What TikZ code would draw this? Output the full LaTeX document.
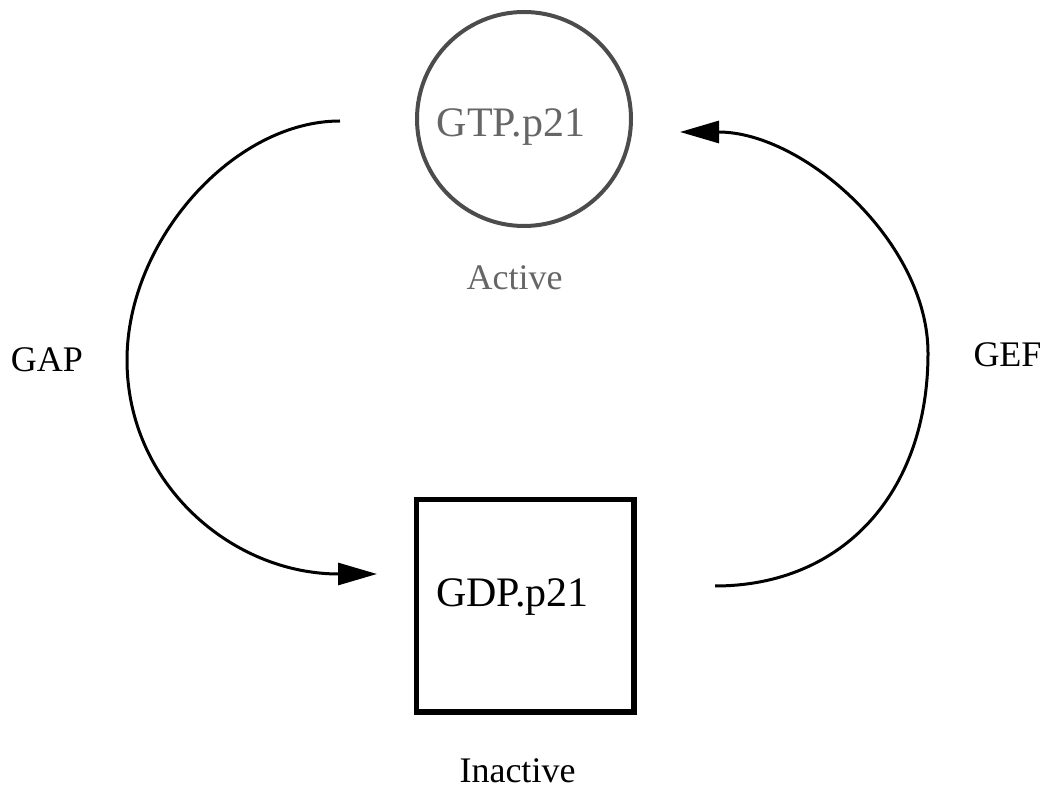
\documentclass[tikz,border=0pt]{standalone}
\usepackage{fontspec}
\setmainfont{Liberation Serif}
\usetikzlibrary{arrows.meta}
\begin{document}
\begin{tikzpicture}[x=0.5pt,y=-0.5pt,
  species/.style={font=\fontsize{21}{25}\selectfont, anchor=base, inner sep=0pt},
  tag/.style={font=\fontsize{18}{22}\selectfont, anchor=base, inner sep=0pt},
  cyclearrow/.style={line width=1.5pt, -{Triangle[length=19.5pt,width=11pt]}}]
\useasboundingbox (0,0) rectangle (1049,795);

% active form (circle) and inactive form (square)
\node[circle, draw=black!70, line width=2pt, minimum size=107pt, inner sep=0pt] (gtp) at (524,119) {};
\node[rectangle, draw=black, line width=2.75pt, minimum width=108.75pt, minimum height=106.25pt, inner sep=0pt] (gdp) at (525.25,605.75) {};

% texts
\node[species, text=black!60] (gtptext) at (511,137) {GTP.p21};
\node[tag, text=black!60] (active) at (514.5,290) {Active};
\node[species] (gdptext) at (512.5,607) {GDP.p21};
\node[tag] (inactive) at (517.5,782) {Inactive};
\node[tag] (gap) at (47,372) {GAP};
\node[tag] (gef) at (1007.5,367) {GEF};

% ends of the two cycle arrows
\coordinate (gapS) at (340,121);
\coordinate (gapM) at (127,360);
\coordinate (gapE) at (377,574);
\coordinate (gefS) at (715,586);
\coordinate (gefM) at (928,353);
\coordinate (gefE) at (680,132);

% GAP: GTP.p21 -> GDP.p21
\draw[cyclearrow] (gapS) .. controls (233.5,121) and (127,240.5) .. (gapM)
  .. controls (127,484.1) and (232,574) .. (gapE);
% GEF: GDP.p21 -> GTP.p21
\draw[cyclearrow] (gefS) .. controls (842.8,586) and (928,492.8) .. (gefM)
  .. controls (928,242.5) and (804,132) .. (gefE);
\end{tikzpicture}
\end{document}
